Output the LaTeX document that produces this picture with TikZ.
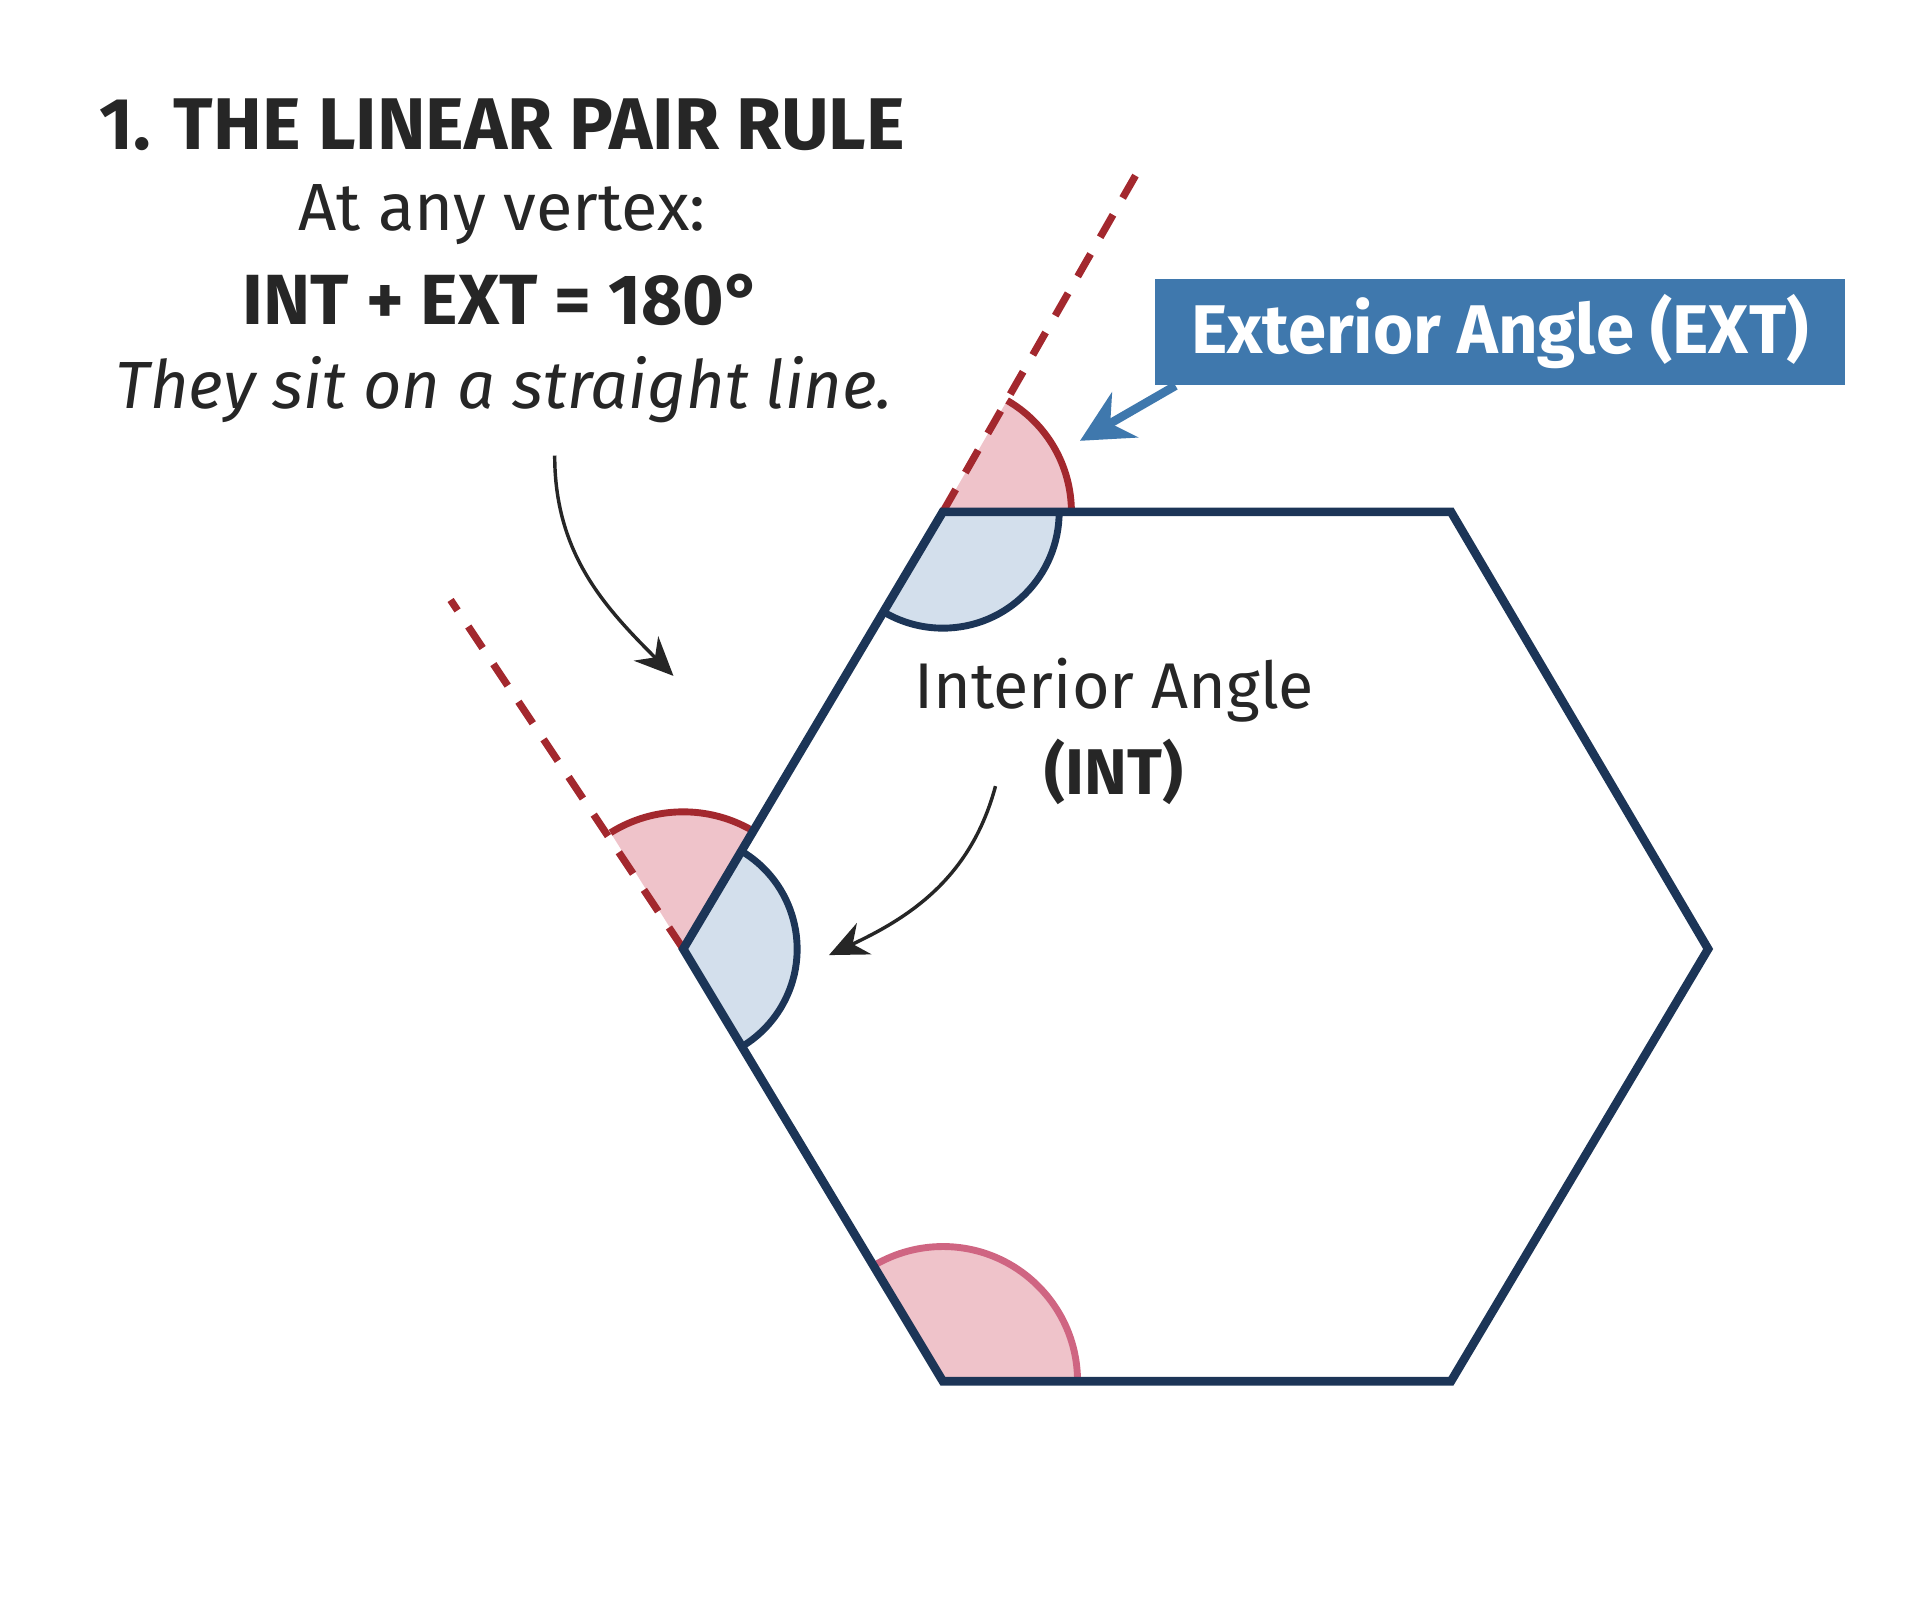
\documentclass[tikz,border=0pt]{standalone}
\usepackage{fontspec}
\setmainfont{Fira Sans}
\usetikzlibrary{arrows.meta}
\definecolor{navy}{HTML}{1C3557}
\definecolor{dred}{HTML}{A3282E}
\definecolor{pinkf}{HTML}{EFC3CA}
\definecolor{bluef}{HTML}{D3DFEC}
\definecolor{boxb}{HTML}{3F78AD}
\definecolor{lpink}{HTML}{CF6582}
\tikzset{
 hexe/.style={navy,line width=2pt,line join=miter},
 ext/.style={dred,line width=1.7pt,dash pattern=on 6pt off 4.5pt},
 parc/.style={dred,line width=1.6pt},
 barc/.style={navy,line width=1.6pt},
 carrow/.style={-{Stealth[length=9pt,width=8pt]},black!85,line width=0.8pt}
}
\begin{document}
\begin{tikzpicture}[x=0.01cm,y=0.01cm]
\useasboundingbox (0,0) rectangle (1568,-1318);
\coordinate (A) at (770,-418);
\coordinate (B) at (1185,-418);
\coordinate (C) at (1395,-775);
\coordinate (D) at (1185,-1128);
\coordinate (E) at (770,-1128);
\coordinate (F) at (558,-775);
\coordinate (EA) at (935,-130);
\coordinate (EF) at (368,-490);
% sectors
\fill[pinkf] (A) -- ++(0:105) arc[start angle=0,end angle=60,radius=105] -- cycle;
\fill[bluef] (A) -- ++(0:95) arc[start angle=0,end angle=-120,radius=95] -- cycle;
\fill[pinkf] (F) -- ++(60:112) arc[start angle=60,end angle=122,radius=112] -- cycle;
\fill[bluef] (F) -- ++(60:93) arc[start angle=60,end angle=-60,radius=93] -- cycle;
\fill[pinkf] (E) -- ++(0:110) arc[start angle=0,end angle=120,radius=110] -- cycle;
\draw[ext] (A) -- (EA);
\draw[ext] (F) -- (EF);
\draw[parc] (A) ++(0:105) arc[start angle=0,end angle=60,radius=105];
\draw[barc] (A) ++(0:95) arc[start angle=0,end angle=-120,radius=95];
\draw[parc] (F) ++(60:112) arc[start angle=60,end angle=122,radius=112];
\draw[barc] (F) ++(60:93) arc[start angle=60,end angle=-60,radius=93];
\draw[lpink,line width=1.6pt] (E) ++(0:110) arc[start angle=0,end angle=120,radius=110];
\draw[hexe] (A) -- (B) -- (C) -- (D) -- (E) -- (F) -- cycle;
% text
\node[font=\fontsize{17}{20}\selectfont\bfseries,text=black!85] (t1) at (410,-102) {1. THE LINEAR PAIR RULE};
\node[font=\fontsize{15.5}{18}\selectfont,text=black!85] (t2) at (410,-175) {At any vertex:};
\node[font=\fontsize{16.5}{19}\selectfont\bfseries,text=black!85] (t3) at (410,-245) {INT + EXT = 180°};
\node[font=\fontsize{15.5}{18}\selectfont\itshape,text=black!85] (t4) at (412,-318) {They sit on a straight line.};
\node[font=\fontsize{15}{18}\selectfont,text=black!85,align=center] (int) at (910,-597) {Interior Angle\\[2pt]\bfseries (INT)};
\node[fill=boxb,text=white,font=\fontsize{16}{19}\selectfont\bfseries,minimum width=564*0.01cm,minimum height=87*0.01cm,inner sep=0pt] (box) at (1225,-271) {Exterior Angle (EXT)};
\coordinate (s1) at (453,-372);
\coordinate (e1) at (550,-552);
\coordinate (s2) at (813,-642);
\coordinate (e2) at (677,-780);
\coordinate (s3) at (960,-315);
\coordinate (e3) at (882,-360);
\draw[carrow] (s1) to[out=-90,in=135] (e1);
\draw[carrow] (s2) to[out=-105,in=25] (e2);
\draw[-{Stealth[length=12pt,width=12pt]},boxb,line width=2pt] (s3) -- (e3);
\end{tikzpicture}
\end{document}
